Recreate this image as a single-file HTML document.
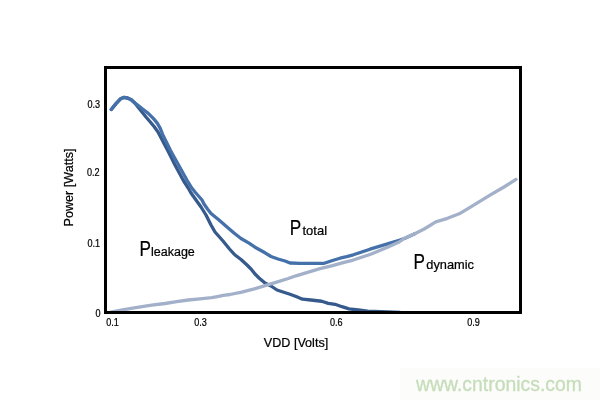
<!DOCTYPE html>
<html><head><meta charset="utf-8">
<style>
html,body{margin:0;padding:0;background:#fff;width:600px;height:400px;overflow:hidden}
svg{display:block;will-change:transform}
text{font-family:"Liberation Sans",sans-serif}
.b{stroke:#000;stroke-width:0.22}
</style></head><body>
<svg width="600" height="400" viewBox="0 0 600 400">
<rect x="0" y="0" width="600" height="400" fill="#fff"/>
<rect x="400" y="368" width="200" height="32" fill="#fcfcfb"/>
<g fill="none" stroke-linejoin="round" stroke-linecap="round" stroke-width="3.3">
<polyline stroke="#365a8c" points="111.3,109.5 116,103.6 120.5,98.8 123.75,97.4 127.5,98 131.25,99.75 135,103.3 140.75,110.5 146,117 150.5,122.25 154.25,126.75 158,132 163,141.5 168.5,152 175,165 183.1,180 188.2,188 191,193 196,200 201,207 206,215 211,225 215,232 223,241 229.5,249 235,255 241,259.5 247,265 251,269 255,274 259,278 265,283 271,286 277,290 283,292 290,294.2 296.7,296.7 302.5,299.2 310.8,300 321.7,301.25 328.3,303.3 335,304.3 342,306.7 349,308.8 358.3,310 367.7,311.2 400,312.3"/>
<polyline stroke="#4571aa" points="111.3,109.5 116,103.6 120.5,98.8 123.75,97.4 127.5,98 131.25,99.75 135,103.1 139.5,106.5 142.25,108.8 148.25,113.4 153.5,118.6 157.25,123.1 160.25,128.4 162.5,134.2 170.3,150 173,155 186.9,180 191.8,188 195,192 202,200 204,204 207.5,209 211,213.5 219,220 227,227 234,233 241,238.5 249,243.2 255,247.2 265,252.8 271,256.5 278,259 285,261 290,263 300,263.3 324.2,263.3 333.3,260.3 340,258.2 346.7,256.6 353.3,254.8 370,249.2 387.5,243.9 399.2,240.2 405,238.2 414.8,233.8"/>
<polyline stroke="#a2b0c9" points="110.8,312 122.5,309.8 134.2,307.8 151.7,305.2 165,303.5 176.7,301.6 188.3,300 200,298.9 211.7,297.7 217.5,296.6 223.3,295.4 230,294.5 241.7,292.2 253.3,289.2 265,285.7 276.7,282.1 288.3,278.5 296,275.8 307.5,272.4 320,268.7 332.5,265.6 345,262.2 352.5,260.3 370,254.5 387.5,247.2 399.2,242 404.3,238.2 414.8,233.8 424.2,229 435.8,221.8 447.5,218.3 459.2,213.8 472.5,205.8 490,195.2 504,187 516,179.4"/>
</g>
<rect x="105.5" y="67.5" width="415" height="245" fill="none" stroke="#000" stroke-width="3"/>
<g font-size="10.2" fill="#000" class="b">
<text transform="translate(100,107.7) scale(0.89,1)" text-anchor="end">0.3</text>
<text transform="translate(99.5,175.7) scale(0.89,1)" text-anchor="end">0.2</text>
<text transform="translate(100,247) scale(0.89,1)" text-anchor="end">0.1</text>
<text transform="translate(100.5,316.9) scale(0.89,1)" text-anchor="end">0</text>
<text transform="translate(112.5,325.5) scale(0.89,1)" text-anchor="middle">0.1</text>
<text transform="translate(200.5,325.5) scale(0.89,1)" text-anchor="middle">0.3</text>
<text transform="translate(336.2,325.5) scale(0.89,1)" text-anchor="middle">0.6</text>
<text transform="translate(473.5,325.5) scale(0.89,1)" text-anchor="middle">0.9</text>
</g>
<text x="296" y="347" font-size="12.6" text-anchor="middle" fill="#000" class="b">VDD [Volts]</text>
<text transform="translate(73,187.5) rotate(-90)" font-size="12.6" text-anchor="middle" fill="#000" class="b">Power [Watts]</text>
<g fill="#000" class="b">
<text transform="translate(139.5,255.7) scale(0.78,1)" font-size="22">P</text><text x="151" y="255.7" font-size="12.5">leakage</text>
<text transform="translate(289.8,234.8) scale(0.78,1)" font-size="22">P</text><text x="302.5" y="234.8" font-size="13">total</text>
<text transform="translate(413.6,269) scale(0.78,1)" font-size="22">P</text><text x="426.3" y="269" font-size="12.8">dynamic</text>
</g>
<text x="416" y="390.5" font-size="19.4" fill="#c6ddba" stroke="#c6ddba" stroke-width="0.3">www.cntronics.com</text>
</svg>
</body></html>
